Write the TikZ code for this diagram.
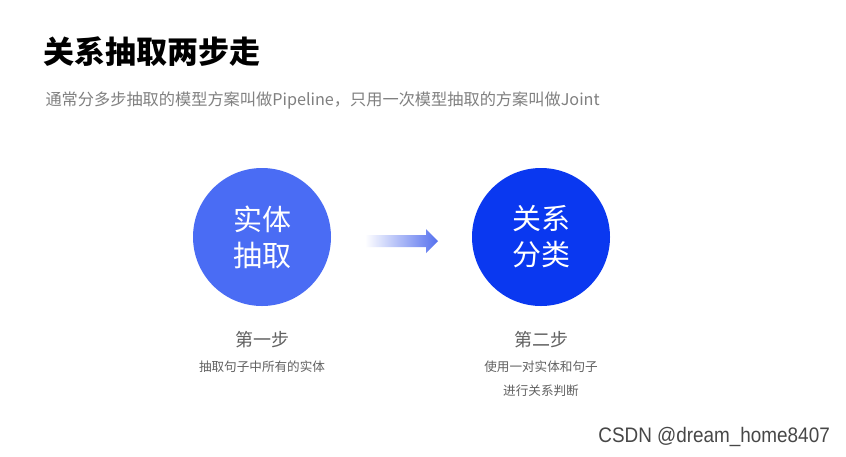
\documentclass[tikz,border=0pt]{standalone}
\usepackage{fontspec}
\setmainfont{Noto Sans CJK SC}
\newfontfamily\markfont{Liberation Sans}
\usepackage{tikz}
\usetikzlibrary{positioning}
\definecolor{stepblue}{HTML}{4A6CF4}
\definecolor{deepblue}{HTML}{0A38F0}
\definecolor{arrowblue}{HTML}{5570EE}
\tikzset{
    bubble/.style={circle, minimum size=138pt, inner sep=0pt, text=white, align=center,
                   font=\fontsize{29}{36}\selectfont},
    steptitle/.style={text=black!62, font=\fontsize{18}{18}\selectfont},
    stepnote/.style={text=black!62, align=center, font=\fontsize{12.6}{24.5}\selectfont},
}

\begin{document}
\begin{tikzpicture}[x=1pt, y=-1pt]
    \useasboundingbox[fill=white] (0,0) rectangle (846,456);

    % Heading
    \node[anchor=west, font=\fontsize{31}{31}\selectfont\bfseries] (title) at (40,52) {关系抽取两步走};
    \node[anchor=west, text=black!50, font=\fontsize{16.2}{16}\selectfont] (intro) at (42,100)
        {通常分多步抽取的模型方案叫做Pipeline，只用一次模型抽取的方案叫做Joint};

    % Circles
    \node[bubble, fill=stepblue] (entity) at (262,237) {实体\\抽取};
    \node[bubble, fill=deepblue] (relation) at (541,237) {关系\\分类};

    % Arrow (fades in from the left)
    \coordinate (arrowL) at (365,241);
    \coordinate (arrowR) at (438,241);
    \shade[left color=white, right color=arrowblue]
        (arrowL) ++(0,-6) -- ++(61,0) -- ++(0,-6) -- (arrowR) -- ++(-12,12) -- ++(0,-6)
        -- ++(-61,0) -- cycle;

    % Step labels
    \node[steptitle] (first) at (262,340) {第一步};
    \node[stepnote, below=5pt of first] (firstnote) {抽取句子中所有的实体};
    \node[steptitle] (second) at (541,340) {第二步};
    \node[stepnote, below=5pt of second] (secondnote) {使用一对实体和句子\\进行关系判断};

    % Watermark
    \node[anchor=east, xscale=0.9, text=black!72, font=\markfont\fontsize{21}{21}\selectfont]
        (mark) at (833,437) {CSDN @dream\_home8407};
\end{tikzpicture}
\end{document}
